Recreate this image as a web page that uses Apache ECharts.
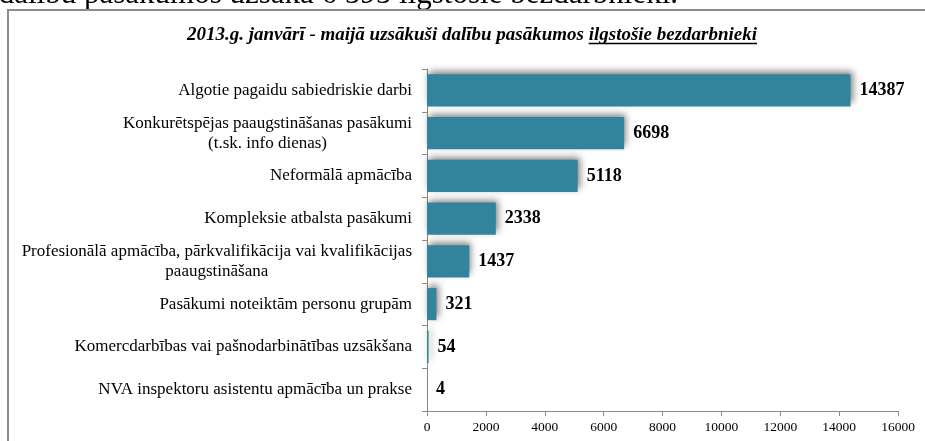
<!DOCTYPE html>
<html>
<head>
<meta charset="utf-8">
<script src="https://cdn.jsdelivr.net/npm/echarts@6/dist/echarts.min.js"></script>
<style>
  html, body { margin: 0; padding: 0; background: #fff; }
  #chart { width: 925px; height: 441px; }
</style>
</head>
<body>
<div id="chart"></div>
<script>
// kategorijas un vērtības
const categories = [
    'Algotie pagaidu sabiedriskie darbi',
    'Konkurētspējas paaugstināšanas pasākumi\n(t.sk. info dienas)',
    'Neformālā apmācība',
    'Kompleksie atbalsta pasākumi',
    'Profesionālā apmācība, pārkvalifikācija vai kvalifikācijas\npaaugstināšana',
    'Pasākumi noteiktām personu grupām',
    'Komercdarbības vai pašnodarbinātības uzsākšana',
    'NVA inspektoru asistentu apmācība un prakse'
];
const values = [14387, 6698, 5118, 2338, 1437, 321, 54, 4];
const axisMin = 0;
const axisMax = 16000;
const axisStep = 2000;

const titleMain = '2013.g. janvārī - maijā uzsākuši dalību pasākumos ';
const titleUnder = 'ilgstošie bezdarbnieki';
const topLine = 'dalību pasākumos uzsāka 6 595 ilgstošie bezdarbnieki.';

const serif = '"Liberation Serif", "DejaVu Serif", serif';
const barColor = '#31849b';
const axisColor = '#8c8c8c';

(function () {
    // virsraksta platums, lai pasvītrotu otro daļu
    const titleFont = 'italic bold 19px ' + serif;
    const ctx = document.createElement('canvas').getContext('2d');
    ctx.font = titleFont;
    const w1 = ctx.measureText(titleMain).width;
    const w2 = ctx.measureText(titleUnder).width;
    const titleCenter = 472;
    const tx = titleCenter - (w1 + w2) / 2 + w1;

    const myChart = echarts.init(document.getElementById('chart'));
    myChart.setOption({
        'animation': false,
        'backgroundColor': '#fff',
        'graphic': [
            {
                'type': 'text', 'x': 678, 'y': -5.5,
                'style': {
                    'text': topLine, 'font': '31px ' + serif, 'fill': '#000',
                    'align': 'right', 'verticalAlign': 'middle'
                }
            },
            {
                'type': 'polyline', 'shape': {'points': [[8, 960], [8, 10], [960, 10]]},
                'style': {'stroke': axisColor, 'lineWidth': 2, 'fill': null}
            },
            {
                'type': 'text', 'x': tx, 'y': 35,
                'style': {
                    'text': titleMain, 'font': titleFont, 'fill': '#000',
                    'align': 'right', 'verticalAlign': 'middle'
                }
            },
            {
                'type': 'text', 'x': tx, 'y': 35,
                'style': {
                    'text': titleUnder, 'font': titleFont, 'fill': '#000',
                    'align': 'left', 'verticalAlign': 'middle'
                }
            },
            {
                'type': 'line', 'shape': {'x1': tx, 'y1': 43.5, 'x2': tx + w2, 'y2': 43.5},
                'style': {'stroke': '#000', 'lineWidth': 1.5}
            }
        ],
        'grid': {
            'left': 427,
            'right': 27,
            'top': 69,
            'bottom': 30,
            'containLabel': false
        },
        'xAxis': {
            'type': 'value',
            'min': axisMin,
            'max': axisMax,
            'interval': axisStep,
            'splitLine': {'show': false},
            'axisLine': {'show': true, 'lineStyle': {'color': axisColor, 'width': 1}},
            'axisTick': {'show': true, 'length': 5, 'lineStyle': {'color': axisColor}},
            'axisLabel': {
                'color': '#000',
                'fontFamily': serif,
                'fontSize': 13.5,
                'margin': 9,
                'formatter': (v) => String(v)
            }
        },
        'yAxis': {
            'type': 'category',
            'data': categories,
            'inverse': true,
            'axisLine': {'show': true, 'lineStyle': {'color': axisColor, 'width': 1}},
            'axisTick': {'show': true, 'length': 5, 'lineStyle': {'color': axisColor}},
            'axisLabel': {
                'color': '#000',
                'fontFamily': serif,
                'fontSize': 17,
                'margin': 15,
                'lineHeight': 20,
                'formatter': (v) => v.split('\n').map((s) => '{c|' + s + '}').join('\n'),
                'rich': {
                    'c': {
                        'align': 'center',
                        'fontFamily': serif,
                        'fontSize': 17,
                        'lineHeight': 20,
                        'color': '#000'
                    }
                }
            }
        },
        'series': [{
            'type': 'bar',
            'data': values,
            'barWidth': '75%',
            'itemStyle': {
                'color': barColor,
                'shadowColor': 'rgba(0,0,0,0.5)',
                'shadowBlur': 7,
                'shadowOffsetX': 2,
                'shadowOffsetY': -3
            },
            'label': {
                'show': true,
                'position': 'right',
                'distance': 9,
                'color': '#000',
                'fontFamily': serif,
                'fontWeight': 'bold',
                'fontSize': 18
            }
        }]
    });
})()
</script>
</body>
</html>
